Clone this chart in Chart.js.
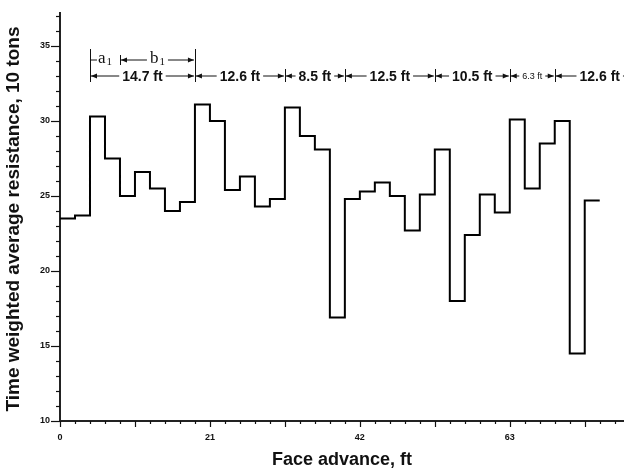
<!DOCTYPE html>
<html>
<head>
<meta charset="utf-8">
<script src="https://cdn.jsdelivr.net/npm/chart.js@4"></script>
<style>
    body { margin: 0; background: #fff; }
    #resistanceChart { display: block; }
</style>
</head>
<body>
<canvas id="resistanceChart" width="624" height="472"></canvas>
<script>
// start of each 2.1 ft step, plus the end of the last one
const faceAdvance = [0, 2.1, 4.2, 6.3, 8.4, 10.5, 12.6, 14.7, 16.8, 18.9,
    21, 23.1, 25.2, 27.3, 29.4, 31.5, 33.6, 35.7, 37.8, 39.9,
    42, 44.1, 46.2, 48.3, 50.4, 52.5, 54.6, 56.7, 58.8, 60.9,
    63, 65.1, 67.2, 69.3, 71.4, 73.5, 75.6];
const resistance = [23.5, 23.7, 30.3, 27.5, 25.0, 26.6, 25.5, 24.0, 24.6, 31.1,
    30.0, 25.4, 26.3, 24.3, 24.8, 30.9, 29.0, 28.1, 16.9, 24.8,
    25.3, 25.9, 25.0, 22.7, 25.1, 28.1, 18.0, 22.4, 25.1, 23.9,
    30.1, 25.5, 28.5, 30.0, 14.5, 24.7, 24.7];

const xTickLabels = [0, 21, 42, 63];
const yTickLabels = [10, 15, 20, 25, 30, 35];

// dimension marks above the curve
const spanEdges = [4.2, 18.9, 31.5, 39.9, 52.5, 63, 69.3, 81.9];
const spanLabels = ['14.7 ft', '12.6 ft', '8.5 ft', '12.5 ft', '10.5 ft', '6.3 ft', '12.6 ft'];
const subEdges = [4.2, 8.4, 18.9];
const subLabels = ['a', 'b'];

const xTitle = 'Face advance, ft';
const yTitle = 'Time weighted average resistance, 10 tons';

document.addEventListener("DOMContentLoaded", function () {
    const ctx = document.getElementById('resistanceChart').getContext('2d');

    function arrowHead(c, x, y, dir) {
        c.beginPath();
        c.moveTo(x, y);
        c.lineTo(x - dir * 6, y - 2.5);
        c.lineTo(x - dir * 6, y + 2.5);
        c.closePath();
        c.fill();
    }

    function dimLine(c, x0, x1, y, textW) {
        const mid = (x0 + x1) / 2;
        const l = mid - textW / 2 - 3;
        const r = mid + textW / 2 + 3;
        c.beginPath();
        c.moveTo(l, y); c.lineTo(x0 + 1, y);
        c.moveTo(r, y); c.lineTo(x1 - 1, y);
        c.stroke();
        arrowHead(c, x0 + 1, y, -1);
        arrowHead(c, x1 - 1, y, 1);
    }

    function vline(c, x, y0, y1) {
        c.beginPath();
        c.moveTo(x, y0);
        c.lineTo(x, y1);
        c.stroke();
    }

    const extrasPlugin = {
        id: 'extras',
        afterDraw(chart) {
            const c = chart.ctx;
            const xs = chart.scales.x;
            const ys = chart.scales.y;
            const area = chart.chartArea;
            c.save();
            c.strokeStyle = '#111';
            c.fillStyle = '#111';
            c.lineWidth = 1.2;

            // minor / major tick marks
            for (let i = 0; i * 2.1 <= xs.max; i++) {
                const px = Math.round(xs.getPixelForValue(i * 2.1)) + 0.5;
                vline(c, px, area.bottom, area.bottom + (i % 5 === 0 ? 6 : 3));
            }
            for (let v = 10; v <= ys.max; v++) {
                const py = Math.round(ys.getPixelForValue(v)) + 0.5;
                c.beginPath();
                c.moveTo(area.left, py);
                c.lineTo(area.left - (v % 5 === 0 ? 9 : 4), py);
                c.stroke();
            }

            // axis titles
            c.font = 'bold 18px "Liberation Sans", Arial, sans-serif';
            c.textAlign = 'center';
            c.textBaseline = 'middle';
            c.fillText(xTitle, (area.left + area.right) / 2, 460);
            c.save();
            c.translate(14, (area.top + area.bottom) / 2 + 2);
            c.rotate(-Math.PI / 2);
            c.font = 'bold 19px "Liberation Sans", Arial, sans-serif';
            c.fillText(yTitle, 0, 0);
            c.restore();

            // span annotations (row 2)
            const row2 = 76;
            c.lineWidth = 1;
            spanLabels.forEach((label, i) => {
                const x0 = xs.getPixelForValue(spanEdges[i]);
                const x1 = xs.getPixelForValue(spanEdges[i + 1]);
                c.font = label === '6.3 ft'
                    ? '9px "Liberation Sans", Arial, sans-serif'
                    : 'bold 14px "Liberation Sans", Arial, sans-serif';
                const w = c.measureText(label).width;
                c.fillText(label, (x0 + x1) / 2, row2 + 1);
                dimLine(c, x0, x1, row2, w);
            });
            spanEdges.forEach((e, i) => {
                const px = Math.round(xs.getPixelForValue(e)) + 0.5;
                const tall = e === subEdges[0] || e === subEdges[2];
                vline(c, px, tall ? 49 : 69, 82);
            });

            // a1 / b1 (row 1)
            const row1 = 60;
            subLabels.forEach((label, i) => {
                const x0 = xs.getPixelForValue(subEdges[i]);
                const x1 = xs.getPixelForValue(subEdges[i + 1]);
                c.font = '17px "Liberation Serif", "Times New Roman", serif';
                const wa = c.measureText(label).width;
                c.font = '11px "Liberation Serif", "Times New Roman", serif';
                const w1 = c.measureText('1').width;
                const w = wa + w1 + 1;
                const mid = (x0 + x1) / 2;
                c.textAlign = 'left';
                c.font = '17px "Liberation Serif", "Times New Roman", serif';
                c.fillText(label, mid - w / 2, row1 - 1);
                c.font = '11px "Liberation Serif", "Times New Roman", serif';
                c.fillText('1', mid - w / 2 + wa + 1, row1 + 2);
                c.textAlign = 'center';
                if (i === 0) {
                    c.beginPath();
                    c.moveTo(x0, row1); c.lineTo(mid - w / 2 - 1, row1);
                    c.stroke();
                } else {
                    dimLine(c, x0, x1, row1, w);
                }
            });
            vline(c, Math.round(xs.getPixelForValue(subEdges[1])) + 0.5, 55, 65);
            c.restore();
        }
    };

    new Chart(ctx, {
        type: 'line',
        data: {
            datasets: [{
                label: 'resistance',
                data: faceAdvance.map((x, i) => ({x: x, y: resistance[i]})),
                stepped: 'before',
                borderColor: '#000',
                borderWidth: 2,
                pointRadius: 0,
                fill: false,
                tension: 0
            }]
        },
        options: {
            responsive: false,
            animation: false,
            layout: {padding: {top: 13, right: 0, left: 0, bottom: 0}},
            plugins: {
                legend: {display: false},
                tooltip: {enabled: false}
            },
            scales: {
                x: {
                    type: 'linear',
                    min: 0,
                    max: 79,
                    afterFit: s => { s.height = 51; },
                    afterBuildTicks: s => { s.ticks = xTickLabels.map(v => ({value: v})); },
                    grid: {display: false},
                    border: {display: true, color: '#222', width: 2},
                    ticks: {
                        color: '#111',
                        padding: 3,
                        maxRotation: 0,
                        font: {family: '"Liberation Sans", Arial, sans-serif', size: 9, weight: 'bold'}
                    }
                },
                y: {
                    min: 10,
                    max: 37.2,
                    afterFit: s => { s.width = 60; },
                    afterBuildTicks: s => { s.ticks = yTickLabels.map(v => ({value: v})); },
                    grid: {display: false},
                    border: {display: true, color: '#222', width: 2},
                    ticks: {
                        color: '#111',
                        padding: 2,
                        font: {family: '"Liberation Sans", Arial, sans-serif', size: 9, weight: 'bold'}
                    }
                }
            }
        },
        plugins: [extrasPlugin]
    });
});
</script>
</body>
</html>
